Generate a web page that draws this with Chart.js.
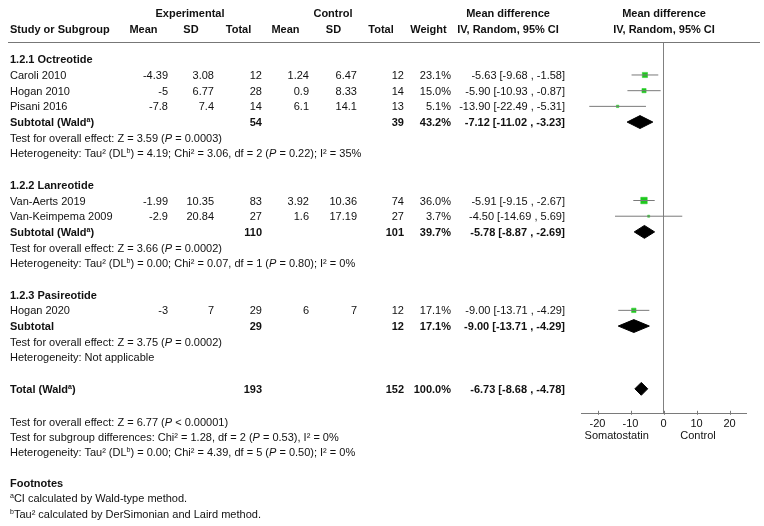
<!DOCTYPE html>
<html><head><meta charset="utf-8">
<script src="https://cdn.jsdelivr.net/npm/chart.js@4"></script>
<style>
html,body{margin:0;padding:0;background:#fff;}
#wrap{position:relative;width:764px;height:526px;overflow:hidden;font-family:'Liberation Sans',Arial,sans-serif;font-size:11px;color:#111;}
#c{position:absolute;left:0;top:0;}
.t{position:absolute;white-space:nowrap;line-height:14px;height:14px;z-index:2;}
.b{font-weight:bold;}
.sp{font-size:7px;vertical-align:4px;line-height:0;}
.hl{position:absolute;left:8px;width:752px;top:42px;height:1px;background:#777;}
</style></head>
<body><div id="wrap"><canvas id="c" width="764" height="526"></canvas><div class="hl"></div></div>
<script>
// ---- data ----
const studies   = ['Caroli 2010','Hogan 2010','Pisani 2016','Van-Aerts 2019','Van-Keimpema 2009','Hogan 2020'];
const studyRow  = [1, 2, 3, 9, 10, 16];
const expMean   = [-4.39, -5, -7.8, -1.99, -2.9, -3];
const expSD     = [3.08, 6.77, 7.4, 10.35, 20.84, 7];
const expN      = [12, 28, 14, 83, 27, 29];
const ctlMean   = [1.24, 0.9, 6.1, 3.92, 1.6, 6];
const ctlSD     = [6.47, 8.33, 14.1, 10.36, 17.19, 7];
const ctlN      = [12, 14, 13, 74, 27, 12];
const weight    = [23.1, 15.0, 5.1, 36.0, 3.7, 17.1];
const md        = [-5.63, -5.90, -13.90, -5.91, -4.50, -9.00];
const ciLo      = [-9.68, -10.93, -22.49, -9.15, -14.69, -13.71];
const ciHi      = [-1.58, -0.87, -5.31, -2.67, 5.69, -4.29];

const sumLabels = ['Subtotal (Wald<span class="sp">a</span>)','Subtotal (Wald<span class="sp">a</span>)','Subtotal','Total (Wald<span class="sp">a</span>)'];
const sumRow    = [4, 11, 17, 21];
const sumExpN   = [54, 110, 29, 193];
const sumCtlN   = [39, 101, 12, 152];
const sumWeight = [43.2, 39.7, 17.1, 100.0];
const sumMd     = [-7.12, -5.78, -9.00, -6.73];
const sumLo     = [-11.02, -8.87, -13.71, -8.68];
const sumHi     = [-3.23, -2.69, -4.29, -4.78];

const groupNames = ['1.2.1 Octreotide','1.2.2 Lanreotide','1.2.3 Pasireotide'];
const groupRow   = [0, 8, 15];
const effectText = ['Test for overall effect: Z = 3.59 (<i>P</i> = 0.0003)','Test for overall effect: Z = 3.66 (<i>P</i> = 0.0002)','Test for overall effect: Z = 3.75 (<i>P</i> = 0.0002)'];
const effectRow  = [5, 12, 18];
const hetText    = ['Heterogeneity: Tau² (DL<span class="sp">b</span>) = 4.19; Chi² = 3.06, df = 2 (<i>P</i> = 0.22); I² = 35%',
                    'Heterogeneity: Tau² (DL<span class="sp">b</span>) = 0.00; Chi² = 0.07, df = 1 (<i>P</i> = 0.80); I² = 0%',
                    'Heterogeneity: Not applicable'];
const hetRow     = [6, 13, 19];
const bottomText = ['Test for overall effect: Z = 6.77 (<i>P</i> &lt; 0.00001)',
                    'Test for subgroup differences: Chi² = 1.28, df = 2 (<i>P</i> = 0.53), I² = 0%',
                    'Heterogeneity: Tau² (DL<span class="sp">b</span>) = 0.00; Chi² = 4.39, df = 5 (<i>P</i> = 0.50); I² = 0%'];
const footTitle  = 'Footnotes';
const footText   = ['<span class="sp">a</span>CI calculated by Wald-type method.','<span class="sp">b</span>Tau² calculated by DerSimonian and Laird method.'];
const xTicks     = [-20, -10, 0, 10, 20];
const axisLeft   = 'Somatostatin';
const axisRight  = 'Control';

// ---- layout helpers ----
const wrap = document.getElementById('wrap');
function put(html, x, yc, align, bold) {
  const d = document.createElement('div');
  d.className = 't' + (bold ? ' b' : '');
  d.innerHTML = html;
  d.style.top = (yc - 7) + 'px';
  if (align === 'right') d.style.right = (764 - x) + 'px';
  else if (align === 'center') { d.style.left = (x - 150) + 'px'; d.style.width = '300px'; d.style.textAlign = 'center'; }
  else d.style.left = x + 'px';
  wrap.appendChild(d);
}
const fmt2 = v => v.toFixed(2);
const ciStr = (m, l, h) => fmt2(m) + ' [' + fmt2(l) + ' , ' + fmt2(h) + ']';
const COL = {em:168, esd:214, en:262, cm:309, csd:357, cn:404, w:451, ci:565};

// ---- chart ----
const datasets = [];
studies.forEach((s, i) => datasets.push({
  data: [{x: ciLo[i], y: studyRow[i]}, {x: ciHi[i], y: studyRow[i]}],
  showLine: true, borderColor: '#7a7a7a', borderWidth: 1, pointRadius: 0, fill: false
}));
datasets.push({
  data: md.map((m, i) => ({x: m, y: studyRow[i]})),
  showLine: false, pointStyle: 'rect',
  pointRadius: weight.map(w => 1.08 * Math.sqrt(w) / Math.SQRT2),
  pointBackgroundColor: '#1ec81e', pointBorderColor: '#1ec81e', pointBorderWidth: 0.5
});
const dh = 0.41;
sumRow.forEach((r, i) => datasets.push({
  data: [{x: sumLo[i], y: r}, {x: sumMd[i], y: r - dh}, {x: sumHi[i], y: r}, {x: sumMd[i], y: r + dh}, {x: sumLo[i], y: r}],
  showLine: true, fill: 'shape', backgroundColor: '#000', borderColor: '#000', borderWidth: 1, pointRadius: 0, tension: 0
}));

const tickMarks = {
  id: 'tickMarks',
  afterDraw(chart) {
    const s = chart.scales.x, ctx = chart.ctx, b = chart.chartArea.bottom;
    ctx.save(); ctx.strokeStyle = '#7a7a7a'; ctx.lineWidth = 1;
    s.ticks.forEach(t => {
      const x = Math.round(s.getPixelForValue(t.value)) + 0.5;
      ctx.beginPath(); ctx.moveTo(x, b - 3); ctx.lineTo(x, b + 1); ctx.stroke();
    });
    ctx.restore();
  }
};

const chart = new Chart(document.getElementById('c'), {
  type: 'scatter',
  data: { datasets },
  options: {
    responsive: false, animation: false,
    layout: { padding: { left: 581, right: 18, top: 43, bottom: 91 } },
    plugins: { legend: { display: false }, tooltip: { enabled: false } },
    scales: {
      x: {
        type: 'linear', min: -25, max: 25,
        afterBuildTicks: s => { s.ticks = xTicks.map(v => ({value: v})); },
        grid: { drawTicks: false, lineWidth: 1, color: c => (c.tick && c.tick.value === 0) ? '#808080' : 'rgba(0,0,0,0)' },
        border: { display: true, color: '#7a7a7a', width: 1 },
        ticks: { color: '#111', padding: 4, font: { family: "'Liberation Sans', Arial, sans-serif", size: 11 } }
      },
      y: { type: 'linear', min: -1.038, max: 22.592, reverse: true, display: false }
    }
  },
  plugins: [tickMarks]
});

// ---- table text ----
const ys = chart.scales.y;
const Y = r => ys.getPixelForValue(r);
// headers
put('Experimental', 190, 13, 'center', true);
put('Control', 333, 13, 'center', true);
put('Mean difference', 508, 13, 'center', true);
put('Mean difference', 664, 13, 'center', true);
put('Study or Subgroup', 10, 29, 'left', true);
put('Mean', 143.5, 29, 'center', true);
put('SD', 191, 29, 'center', true);
put('Total', 238.5, 29, 'center', true);
put('Mean', 285.5, 29, 'center', true);
put('SD', 333.5, 29, 'center', true);
put('Total', 381, 29, 'center', true);
put('Weight', 428.5, 29, 'center', true);
put('IV, Random, 95% CI', 508, 29, 'center', true);
put('IV, Random, 95% CI', 664, 29, 'center', true);

groupNames.forEach((g, i) => put(g, 10, Y(groupRow[i]), 'left', true));
studies.forEach((s, i) => {
  const y = Y(studyRow[i]);
  put(s, 10, y, 'left');
  put(String(expMean[i]), COL.em, y, 'right');
  put(String(expSD[i]), COL.esd, y, 'right');
  put(String(expN[i]), COL.en, y, 'right');
  put(String(ctlMean[i]), COL.cm, y, 'right');
  put(String(ctlSD[i]), COL.csd, y, 'right');
  put(String(ctlN[i]), COL.cn, y, 'right');
  put(weight[i].toFixed(1) + '%', COL.w, y, 'right');
  put(ciStr(md[i], ciLo[i], ciHi[i]), COL.ci, y, 'right');
});
sumLabels.forEach((s, i) => {
  const y = Y(sumRow[i]);
  put(s, 10, y, 'left', true);
  put(String(sumExpN[i]), COL.en, y, 'right', true);
  put(String(sumCtlN[i]), COL.cn, y, 'right', true);
  put(sumWeight[i].toFixed(1) + '%', COL.w, y, 'right', true);
  put(ciStr(sumMd[i], sumLo[i], sumHi[i]), COL.ci, y, 'right', true);
});
effectText.forEach((t, i) => put(t, 10, Y(effectRow[i]), 'left'));
hetText.forEach((t, i) => put(t, 10, Y(hetRow[i]), 'left'));
const bottomY = [421.7, 436.7, 452];
bottomText.forEach((t, i) => put(t, 10, bottomY[i], 'left'));
put(footTitle, 10, 483.3, 'left', true);
footText.forEach((t, i) => put(t, 10, [498.3, 513.7][i], 'left'));
put(axisLeft, 616.7, 435, 'center');
put(axisRight, 698, 435, 'center');
</script>
</body></html>
